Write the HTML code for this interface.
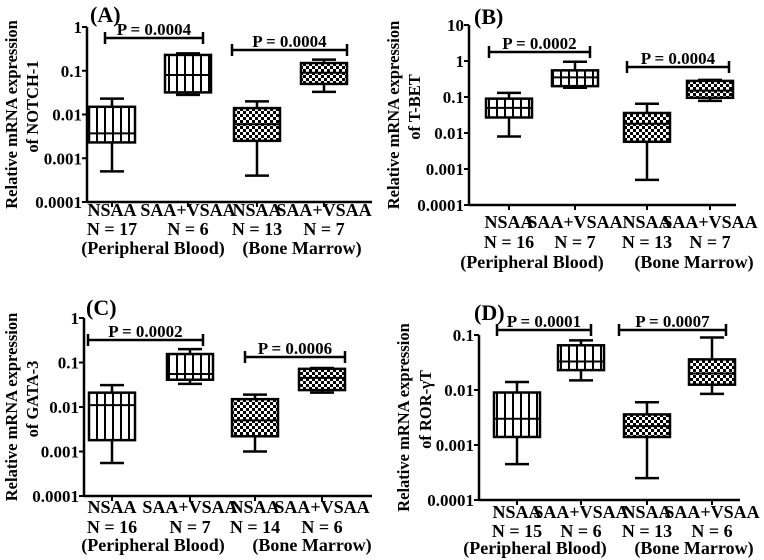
<!DOCTYPE html>
<html><head><meta charset="utf-8"><style>
html,body{margin:0;padding:0;background:#fff;}
svg{display:block;font-family:"Liberation Serif",serif;font-weight:bold;}
</style></head><body>
<svg id="fig" width="764" height="560" viewBox="0 0 764 560">
<defs>
<pattern id="stripes" patternUnits="userSpaceOnUse" width="8" height="10"><rect width="8" height="10" fill="#fff"/><rect x="0" width="2" height="10" fill="#000"/></pattern>
<pattern id="checker" patternUnits="userSpaceOnUse" width="6" height="6"><rect width="6" height="6" fill="#fff"/><rect width="3" height="3" fill="#000"/><rect x="3" y="3" width="3" height="3" fill="#000"/></pattern>
</defs>
</svg>
<script>
// Data per panel: [whiskerLow, q1, median, q3, whiskerHigh] per group
const groupNames = ["NSAA","SAA+VSAA","NSAA","SAA+VSAA"];
const panelTitles = ["(A)","(B)","(C)","(D)"];
const genes = ["of NOTCH-1","of T-BET","of GATA-3","of ROR-\u03B3T"];
const nA = ["N = 17","N = 6","N = 13","N = 7"];
const nB = ["N = 16","N = 7","N = 13","N = 7"];
const nC = ["N = 16","N = 7","N = 14","N = 6"];
const nD = ["N = 15","N = 6","N = 13","N = 6"];
const boxA = [[0.0005,0.0023,0.0037,0.015,0.023],[0.028,0.032,0.08,0.23,0.25],[0.0004,0.0025,0.006,0.014,0.02],[0.033,0.05,0.09,0.15,0.18]];
const boxB = [[0.008,0.027,0.05,0.09,0.13],[0.18,0.2,0.35,0.55,0.95],[0.0005,0.0057,0.018,0.036,0.065],[0.078,0.095,0.15,0.28,0.3]];
const boxC = [[0.00055,0.0018,0.011,0.021,0.031],[0.033,0.041,0.055,0.155,0.2],[0.001,0.0022,0.005,0.015,0.019],[0.021,0.024,0.045,0.072,0.075]];
const boxD = [[0.00045,0.0014,0.003,0.009,0.014],[0.015,0.023,0.033,0.065,0.08],[0.00025,0.0014,0.0022,0.0036,0.006],[0.0085,0.0125,0.02,0.036,0.09]];
const pA = ["P = 0.0004","P = 0.0004"];
const pB = ["P = 0.0002","P = 0.0004"];
const pC = ["P = 0.0002","P = 0.0006"];
const pD = ["P = 0.0001","P = 0.0007"];
const ticksA = [1,0.1,0.01,0.001,0.0001];
const ticksB = [10,1,0.1,0.01,0.001,0.0001];
const ticksC = [1,0.1,0.01,0.001,0.0001];
const ticksD = [0.1,0.01,0.001,0.0001];

const panels = [
 {id:"a",data:boxA,ns:nA,ps:pA,ticks:ticksA,ax:87,xEnd:372,yTop:27,yBot:202,cx:[112,188,257,324],br:[[105,203,38],[232,347,50]],rows:[210,229,248],grp:[153,302],yt:[13,34],lab:[90,22]},
 {id:"b",data:boxB,ns:nB,ps:pB,ticks:ticksB,ax:469,xEnd:736,yTop:25,yBot:205,cx:[509,575,647,710],br:[[489,590,52],[627,729,67]],rows:[222,242,262],grp:[532,694],yt:[395,416],lab:[474,24]},
 {id:"c",data:boxC,ns:nC,ps:pC,ticks:ticksC,ax:84,xEnd:372,yTop:318,yBot:496,cx:[112,190,255,322],br:[[88,203,340],[245,345,357]],rows:[507,527,545],grp:[153,312],yt:[13,34],lab:[86,315]},
 {id:"d",data:boxD,ns:nD,ps:pD,ticks:ticksD,ax:479,xEnd:740,yTop:335,yBot:500,cx:[517,581,647,712],br:[[497,591,330],[619,726,330]],rows:[512,531,548],grp:[535,694],yt:[405,427],lab:[474,320]}
];
const svg=document.getElementById('fig');
const NS="http://www.w3.org/2000/svg";
function mk(tag,attrs,parent){const e=document.createElementNS(NS,tag);for(const k in attrs)e.setAttribute(k,attrs[k]);(parent||svg).appendChild(e);return e;}
function fmt(v){return String(v);}
panels.forEach((p,pi)=>{
 const g=mk('g',{});
 
 
 const lmax=Math.log10(p.ticks[0]),lmin=Math.log10(p.ticks[p.ticks.length-1]);
 const y=v=>p.yTop+(lmax-Math.log10(v))/(lmax-lmin)*(p.yBot-p.yTop);
 const ya=mk('line',{x1:p.ax,y1:p.yTop,x2:p.ax,y2:p.yBot,stroke:'#000','stroke-width':2.5},g);
 
 
 const xa=mk('line',{x1:p.ax,y1:p.yBot,x2:p.xEnd,y2:p.yBot,stroke:'#000','stroke-width':2.5},g);
 
 
 p.ticks.forEach(t=>{
  mk('line',{x1:p.ax-5,y1:y(t),x2:p.ax,y2:y(t),stroke:'#000','stroke-width':2},g);
  const tl=mk('text',{x:p.ax-5,y:y(t)+6,'text-anchor':'end','font-size':17},g);
  tl.textContent=fmt(t);
  
  
 });
 p.cx.forEach(c=>mk('line',{x1:c,y1:p.yBot,x2:c,y2:p.yBot+5,stroke:'#000','stroke-width':2},g));
 const my=(p.yTop+p.yBot)/2;
 const t1=mk('text',{x:p.yt[0],y:my,'text-anchor':'middle','font-size':16.5,transform:`rotate(-90 ${p.yt[0]} ${my})`,'dominant-baseline':'middle'},g);
 t1.textContent='Relative mRNA expression';
 
 
 const t2=mk('text',{x:p.yt[1],y:my-8,'text-anchor':'middle','font-size':16.5,transform:`rotate(-90 ${p.yt[1]} ${my-8})`,'dominant-baseline':'middle'},g);
 t2.textContent=genes[pi];
 
 
 const pl=mk('text',{x:p.lab[0],y:p.lab[1],'font-size':22},g);
 pl.textContent=panelTitles[pi];
 
 
 const bw=46,cw=24;
 p.data.forEach((d,i)=>{
  const c=p.cx[i];
  const bg=mk('g',{},g);
  
  
  mk('line',{x1:c,y1:y(d[0]),x2:c,y2:y(d[4]),stroke:'#000','stroke-width':2.5},bg);
  mk('line',{x1:c-cw/2,y1:y(d[0]),x2:c+cw/2,y2:y(d[0]),stroke:'#000','stroke-width':2.5},bg);
  mk('line',{x1:c-cw/2,y1:y(d[4]),x2:c+cw/2,y2:y(d[4]),stroke:'#000','stroke-width':2.5},bg);
  mk('rect',{x:c-bw/2,y:y(d[3]),width:bw,height:y(d[1])-y(d[3]),fill:i<2?'url(#stripes)':'url(#checker)',stroke:'#000','stroke-width':2.5},bg);
  mk('line',{x1:c-bw/2,y1:y(d[2]),x2:c+bw/2,y2:y(d[2]),stroke:'#000','stroke-width':2},bg);
  const l1=mk('text',{x:c,y:p.rows[0]+6,'text-anchor':'middle','font-size':18},g);
  l1.textContent=groupNames[i];
  
  
  const l2=mk('text',{x:c,y:p.rows[1]+6,'text-anchor':'middle','font-size':18},g);
  l2.textContent=p.ns[i];
  
  
 });
 ['(Peripheral Blood)','(Bone Marrow)'].forEach((s,k)=>{
  const l=mk('text',{x:p.grp[k],y:p.rows[2]+6,'text-anchor':'middle','font-size':18},g);
  l.textContent=s;
  
  
 });
 p.br.forEach((b,k)=>{
  const bg=mk('g',{},g);
  
  
  mk('line',{x1:b[0],y1:b[2],x2:b[1],y2:b[2],stroke:'#000','stroke-width':2.5},bg);
  mk('line',{x1:b[0],y1:b[2]-6,x2:b[0],y2:b[2]+6,stroke:'#000','stroke-width':2.5},bg);
  mk('line',{x1:b[1],y1:b[2]-6,x2:b[1],y2:b[2]+6,stroke:'#000','stroke-width':2.5},bg);
  const t=mk('text',{x:(b[0]+b[1])/2,y:b[2]-3,'text-anchor':'middle','font-size':17},bg);
  t.textContent=p.ps[k];
 });
});
</script>
</body></html>
